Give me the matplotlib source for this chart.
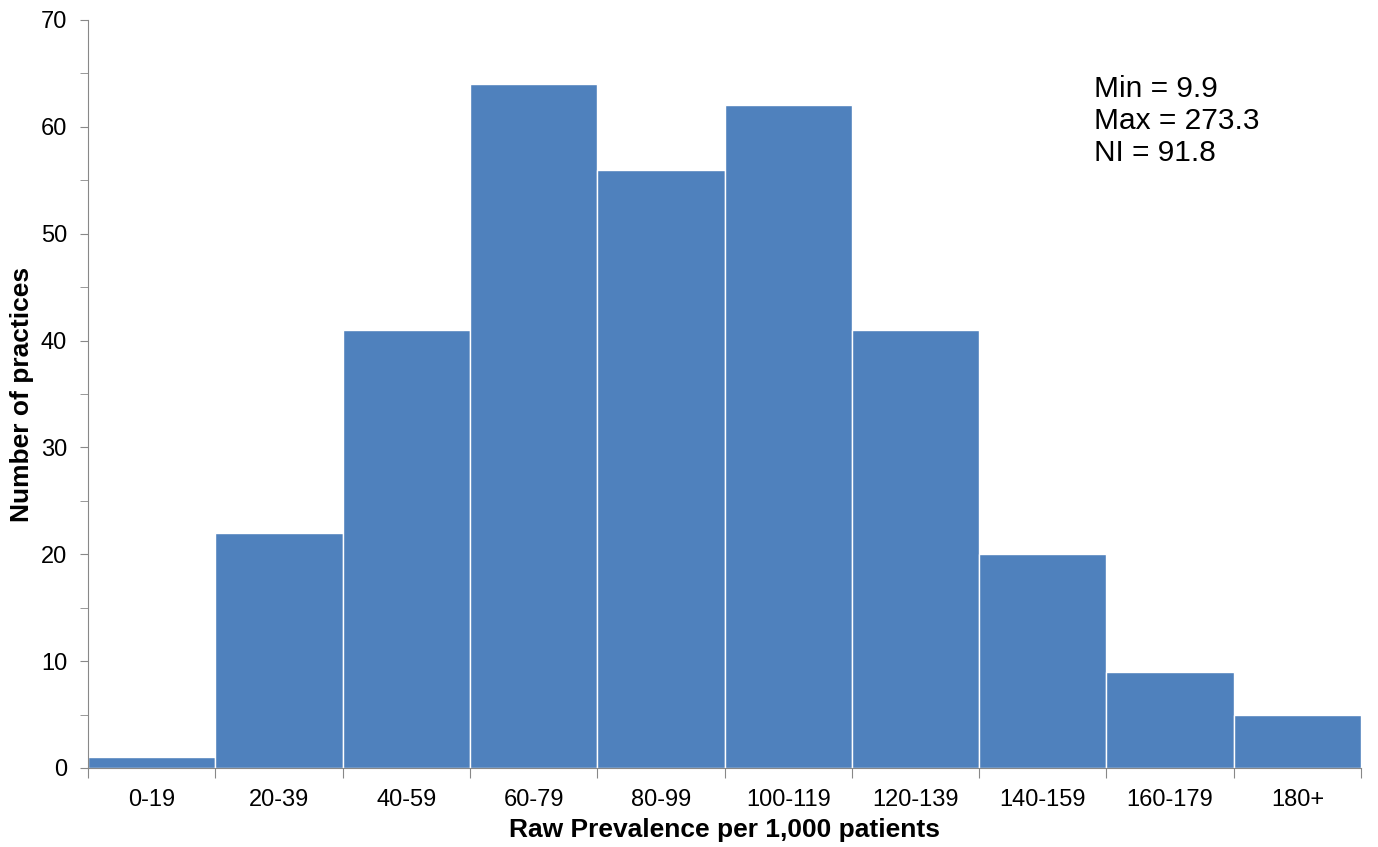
import matplotlib.pyplot as plt
import numpy as np

plt.rcParams['font.family'] = ['Liberation Sans', 'DejaVu Sans']

# Data
categories = ["0-19", "20-39", "40-59", "60-79", "80-99", "100-119",
              "120-139", "140-159", "160-179", "180+"]
counts = [1, 22, 41, 64, 56, 62, 41, 20, 9, 5]
stats_text = "Min = 9.9\nMax = 273.3\nNI = 91.8"

fig = plt.figure(figsize=(13.78, 8.47), dpi=100)
ax = fig.add_axes([0.0639, 0.0933, 0.9238, 0.8831])

x = np.arange(len(categories))
ax.bar(x, counts, width=1.0, color="#4F81BD", edgecolor="white", linewidth=1)

ax.set_xlim(-0.5, len(categories) - 0.5)
ax.set_ylim(0, 70)

# x ticks at bin edges, labels centred
ax.set_xticks(np.arange(len(categories) + 1) - 0.5)
ax.set_xticklabels([])
ax.set_xticks(x, minor=True)
ax.set_xticklabels(categories, minor=True, fontsize=17)
ax.tick_params(axis="x", which="major", length=7, color="#888888", direction="out")
ax.tick_params(axis="x", which="minor", length=0, pad=15)

ax.set_yticks(np.arange(0, 71, 10))
ax.set_yticks(np.arange(5, 70, 10), minor=True)
ax.tick_params(axis="y", which="both", length=6, color="#888888", labelsize=17,
               direction="out", pad=9)

for side in ["top", "right"]:
    ax.spines[side].set_visible(False)
for side in ["left", "bottom"]:
    ax.spines[side].set_color("#888888")

ax.set_xlabel("Raw Prevalence per 1,000 patients", fontsize=19, fontweight="bold", labelpad=5)
ax.set_ylabel("Number of practices", fontsize=19, fontweight="bold", labelpad=5)

ax.text(0.790, 0.927, stats_text, transform=ax.transAxes, fontsize=21.5,
        va="top", ha="left", linespacing=1.18)

fig.savefig("out.png", dpi=100)
